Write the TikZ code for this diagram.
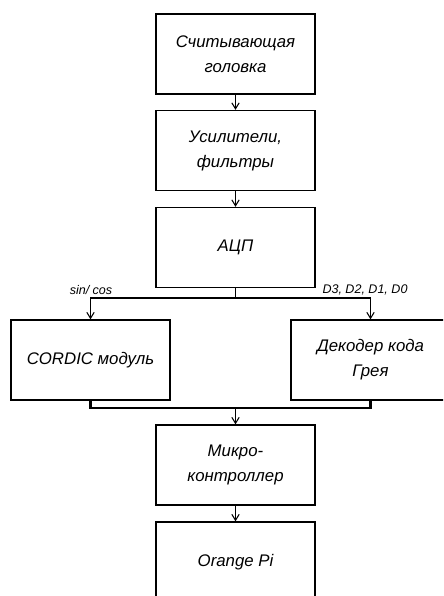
\documentclass[tikz,border=0pt]{standalone}
\usepackage{fontspec}
\setmainfont{Liberation Sans}
\usetikzlibrary{arrows.meta}

\tikzset{
  block/.style={draw, line width=1pt, minimum width=119.25pt, minimum height=60pt,
    align=center, inner sep=0pt, font=\itshape\fontsize{12.6}{18.75}\selectfont},
  sig/.style={font=\itshape\fontsize{9.4}{11}\selectfont, inner sep=0pt},
  link/.style={line width=0.8pt, -{Straight Barb[length=4.5pt,width=5.5pt]}},
  bus/.style={line width=1.6pt},
}

\begin{document}
\begin{tikzpicture}[x=0.75pt, y=-0.75pt]
		%%%%% START %%%%%
		\useasboundingbox (0,0) rectangle (443,596);
		\clip (0,0) rectangle (443,596);
		
		% main chain
		\node[block] (head) at (235.5, 54) {Считывающая\\головка};
		\node[block] (amp) at (235.5, 150.5) {Усилители,\\фильтры};
		\node[block] (adc) at (235.5, 247.5) {АЦП};
		
		% two decoders side by side
		\node[block] (cordic) at (90.5, 360) {CORDIC модуль};
		\node[block] (gray) at (370.5, 360) {Декодер кода\\Грея};
		
		\node[block] (mcu) at (235.5, 465) {Микро-\\контроллер};
		\node[block] (opi) at (235.5, 562) {Orange Pi};
		
		\coordinate (split) at (235.5, 298);
		\coordinate (merge) at (235.5, 408);
		
		\node[sig] (sincos) at (91, 290) {sin/ cos};
		\node[sig] (dbits) at (365, 290) {D3, D2, D1, D0};
		
		\draw[link] (head) -- (amp);
		\draw[link] (amp) -- (adc);
		\draw[line width=0.8pt] (adc) -- (split);
		\draw[link] (split) -| (cordic);
		\draw[link] (split) -| (gray);
		
		\draw[bus] (cordic) |- (merge);
		\draw[bus] (gray) |- (merge);
		\draw[link] (merge) -- (mcu);
		\draw[link] (mcu) -- (opi);
		
		%%%%% END %%%%%
	\end{tikzpicture}
\end{document}
